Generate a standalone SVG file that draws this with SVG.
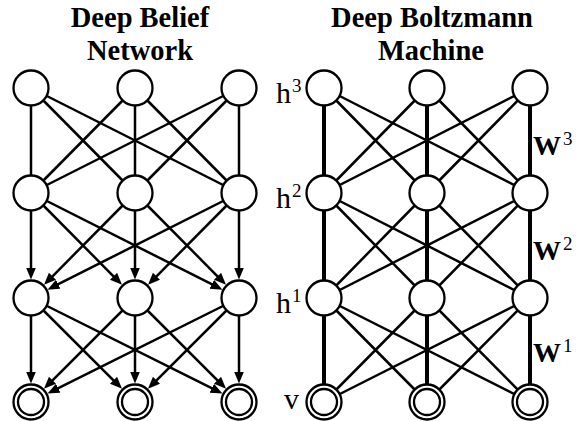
<svg xmlns="http://www.w3.org/2000/svg" width="576" height="421" viewBox="0 0 576 421">
<style>
.title{font-family:"Liberation Serif","Times New Roman",serif;font-weight:bold;font-size:28.5px;fill:#000;text-anchor:middle}
.lab{font-family:"Liberation Serif","Times New Roman",serif;font-size:30px;fill:#000}
.sup{font-family:"Liberation Serif","Times New Roman",serif;font-size:19px;fill:#000}
.wlab{font-family:"Liberation Serif","Times New Roman",serif;font-weight:bold;font-size:28px;fill:#000}
.e{stroke:#000;stroke-width:2.5;fill:none}
.a{stroke:#000;stroke-width:2.5;fill:none;marker-end:url(#ah)}
.v{stroke:#000;stroke-width:4;fill:none}
.n{fill:#fff;stroke:#000;stroke-width:2.3}
</style>
<defs>
<marker id="ah" markerUnits="userSpaceOnUse" markerWidth="14" markerHeight="11" refX="1" refY="5" orient="auto">
<path d="M0,0 L12,5 L0,10 z" fill="#000"/>
</marker>
</defs>
<rect width="576" height="421" fill="#fff"/>
<text class="title" x="140" y="27">Deep Belief</text>
<text class="title" x="140" y="60">Network</text>
<text class="title" x="432" y="27">Deep Boltzmann</text>
<text class="title" x="431" y="60">Machine</text>
<g id="connectors">
<line class="e" x1="31" y1="88" x2="31" y2="193"/>
<line class="e" x1="31" y1="88" x2="135" y2="193"/>
<line class="e" x1="31" y1="88" x2="239" y2="193"/>
<line class="e" x1="135" y1="88" x2="31" y2="193"/>
<line class="e" x1="135" y1="88" x2="135" y2="193"/>
<line class="e" x1="135" y1="88" x2="239" y2="193"/>
<line class="e" x1="239" y1="88" x2="31" y2="193"/>
<line class="e" x1="239" y1="88" x2="135" y2="193"/>
<line class="e" x1="239" y1="88" x2="239" y2="193"/>
<line class="a" x1="31" y1="193" x2="31" y2="268.5"/>
<line class="a" x1="135" y1="193" x2="51.76" y2="277.04"/>
<line class="a" x1="239" y1="193" x2="57.33" y2="284.71"/>
<line class="a" x1="31" y1="193" x2="114.24" y2="277.04"/>
<line class="a" x1="135" y1="193" x2="135" y2="268.5"/>
<line class="a" x1="239" y1="193" x2="155.76" y2="277.04"/>
<line class="a" x1="31" y1="193" x2="212.67" y2="284.71"/>
<line class="a" x1="135" y1="193" x2="218.24" y2="277.04"/>
<line class="a" x1="239" y1="193" x2="239" y2="268.5"/>
<line class="a" x1="31" y1="298" x2="31" y2="372.5"/>
<line class="a" x1="135" y1="298" x2="51.76" y2="381.04"/>
<line class="a" x1="239" y1="298" x2="57.33" y2="388.71"/>
<line class="a" x1="31" y1="298" x2="114.24" y2="381.04"/>
<line class="a" x1="135" y1="298" x2="135" y2="372.5"/>
<line class="a" x1="239" y1="298" x2="155.76" y2="381.04"/>
<line class="a" x1="31" y1="298" x2="212.67" y2="388.71"/>
<line class="a" x1="135" y1="298" x2="218.24" y2="381.04"/>
<line class="a" x1="239" y1="298" x2="239" y2="372.5"/>
<line class="v" x1="324" y1="88" x2="324" y2="402"/>
<line class="v" x1="427" y1="88" x2="427" y2="402"/>
<line class="v" x1="530" y1="88" x2="530" y2="402"/>
<path class="e" d="M324,88 L427,193 M324,88 L530,193 M427,88 L324,193 M427,88 L530,193 M530,88 L324,193 M530,88 L427,193"/>
<path class="e" d="M324,193 L427,298 M324,193 L530,298 M427,193 L324,298 M427,193 L530,298 M530,193 L324,298 M530,193 L427,298"/>
<path class="e" d="M324,298 L427,402 M324,298 L530,402 M427,298 L324,402 M427,298 L530,402 M530,298 L324,402 M530,298 L427,402"/>
</g>
<g id="dbn-h3-1"><circle class="n" cx="31" cy="88" r="17.5"/></g>
<g id="dbn-h3-2"><circle class="n" cx="135" cy="88" r="17.5"/></g>
<g id="dbn-h3-3"><circle class="n" cx="239" cy="88" r="17.5"/></g>
<g id="dbn-h2-1"><circle class="n" cx="31" cy="193" r="17.5"/></g>
<g id="dbn-h2-2"><circle class="n" cx="135" cy="193" r="17.5"/></g>
<g id="dbn-h2-3"><circle class="n" cx="239" cy="193" r="17.5"/></g>
<g id="dbn-h1-1"><circle class="n" cx="31" cy="298" r="17.5"/></g>
<g id="dbn-h1-2"><circle class="n" cx="135" cy="298" r="17.5"/></g>
<g id="dbn-h1-3"><circle class="n" cx="239" cy="298" r="17.5"/></g>
<g id="dbn-v-1"><circle class="n" cx="31" cy="402" r="17.5"/><circle class="n" cx="31" cy="402" r="13"/></g>
<g id="dbn-v-2"><circle class="n" cx="135" cy="402" r="17.5"/><circle class="n" cx="135" cy="402" r="13"/></g>
<g id="dbn-v-3"><circle class="n" cx="239" cy="402" r="17.5"/><circle class="n" cx="239" cy="402" r="13"/></g>
<g id="dbm-h3-1"><circle class="n" cx="324" cy="88" r="17.5"/></g>
<g id="dbm-h3-2"><circle class="n" cx="427" cy="88" r="17.5"/></g>
<g id="dbm-h3-3"><circle class="n" cx="530" cy="88" r="17.5"/></g>
<g id="dbm-h2-1"><circle class="n" cx="324" cy="193" r="17.5"/></g>
<g id="dbm-h2-2"><circle class="n" cx="427" cy="193" r="17.5"/></g>
<g id="dbm-h2-3"><circle class="n" cx="530" cy="193" r="17.5"/></g>
<g id="dbm-h1-1"><circle class="n" cx="324" cy="298" r="17.5"/></g>
<g id="dbm-h1-2"><circle class="n" cx="427" cy="298" r="17.5"/></g>
<g id="dbm-h1-3"><circle class="n" cx="530" cy="298" r="17.5"/></g>
<g id="dbm-v-1"><circle class="n" cx="324" cy="402" r="17.5"/><circle class="n" cx="324" cy="402" r="13"/></g>
<g id="dbm-v-2"><circle class="n" cx="427" cy="402" r="17.5"/><circle class="n" cx="427" cy="402" r="13"/></g>
<g id="dbm-v-3"><circle class="n" cx="530" cy="402" r="17.5"/><circle class="n" cx="530" cy="402" r="13"/></g>
<g id="labels">
<text class="lab" x="276" y="103">h</text><text class="sup" x="292" y="92">3</text>
<text class="lab" x="276" y="208">h</text><text class="sup" x="292" y="197">2</text>
<text class="lab" x="276" y="313">h</text><text class="sup" x="292" y="302">1</text>
<text class="lab" x="284" y="409">v</text>
<text class="wlab" x="533" y="155">W</text><text class="sup" x="563" y="145">3</text>
<text class="wlab" x="533" y="260">W</text><text class="sup" x="563" y="250">2</text>
<text class="wlab" x="533" y="362">W</text><text class="sup" x="563" y="352">1</text>
</g>
</svg>
